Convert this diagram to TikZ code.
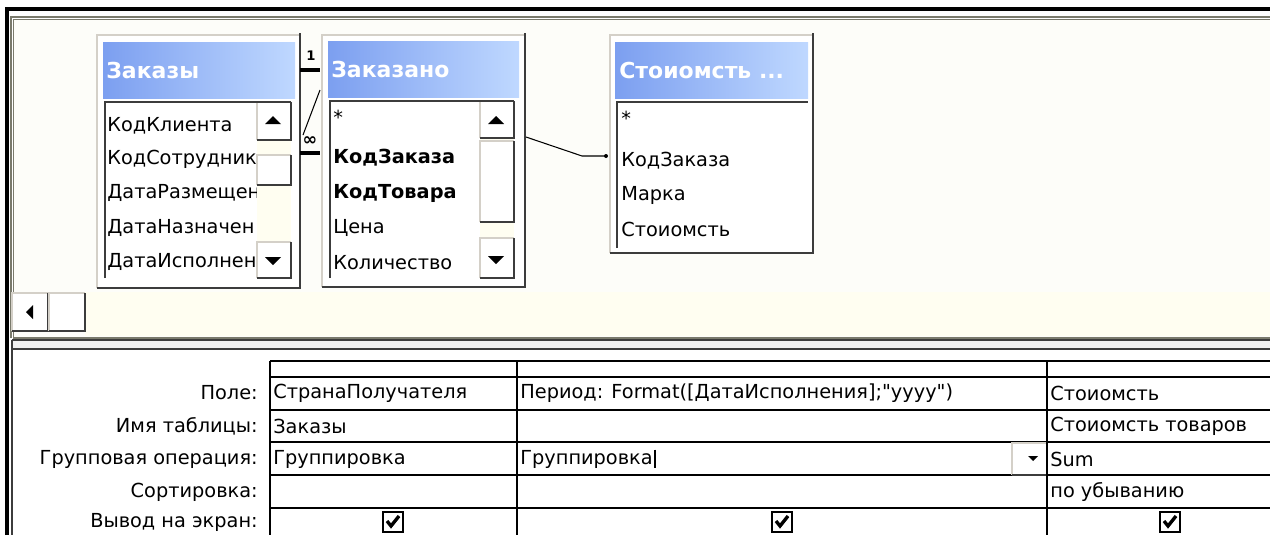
\documentclass[tikz,border=0pt]{standalone}
\usepackage{fontspec}
\setmainfont{DejaVu Sans}[Ligatures=TeXOff]
\usetikzlibrary{positioning,calc}

\definecolor{winbg}{HTML}{FDFDF9}
\definecolor{cream}{HTML}{FFFEF1}
\definecolor{hdrdark}{HTML}{7C9FF0}
\definecolor{hdrlight}{HTML}{BFD8FF}
\definecolor{edgelight}{HTML}{D4D0C8}
\definecolor{edgedark}{HTML}{3C3C3C}
\definecolor{panegray}{HTML}{7A7A6C}

\begin{document}
\begin{tikzpicture}[x=0.02cm,y=-0.02cm,
    fld/.style={anchor=west,inner sep=0pt,font=\fontsize{11}{13}\selectfont},
    bfld/.style={fld,font=\fontsize{11}{13}\selectfont\bfseries},
    hdr/.style={anchor=west,inner sep=0pt,text=white,font=\fontsize{12.5}{15}\selectfont\bfseries},
    lbl/.style={anchor=east,inner sep=0pt,font=\fontsize{11}{13}\selectfont},
    lite/.style={draw=edgelight,line width=0.7pt},
    dark/.style={draw=edgedark,line width=1.1pt},
    rel/.style={line width=1.8pt},
    chk/.style={draw,line width=1.2pt,fill=white,minimum size=11pt,inner sep=0pt}]
    % фон и рамки окна
    \fill[white] (0,0) rectangle (1270,535);
    \useasboundingbox (0,0) rectangle (1270,535);
    \fill[winbg] (13,20) rectangle (1270,338);
    \fill[cream] (85,292) rectangle (1270,336);
    \draw[panegray,line width=0.7pt] (11,338)--(11,17)--(1270,17);
    \draw[panegray,line width=0.7pt] (13.5,338)--(13.5,19.5)--(1270,19.5);
    \draw[panegray,line width=0.6pt] (13,338)--(1270,338);
    \draw[black,line width=1.8pt] (7,535)--(7,9)--(1270,9);

    % нижняя панель
    \fill[black!6] (12,340) rectangle (1270,349);
    \draw[edgedark,line width=0.8pt] (12,340)--(1270,340);
    \draw[edgedark,line width=0.8pt] (12,349)--(1270,349);
    \draw[edgedark,line width=0.8pt] (12,340)--(12,535);

    % горизонтальная прокрутка
    \foreach \xa/\xb in {12/48,49/85} {
      \fill[white] (\xa,293) rectangle (\xb,331);
      \draw[lite] (\xa,331)--(\xa,293)--(\xb,293);
      \draw[dark] (\xa,331)--(\xb,331)--(\xb,293);
    }
    \fill (26,312)--(33,305)--(33,319)--cycle;

    % таблица Заказы
    \fill[white] (97,35) rectangle (300,288);
    \shade[left color=hdrdark,right color=hdrlight] (103,42) rectangle (295,98);
    \node[hdr] (tZak) at (106,70) {Заказы};
    \foreach \y/\f [count=\i] in {126/КодКлиента,159/КодСотрудника,193/ДатаРазмещен,228/ДатаНазначен,262/ДатаИсполнен}
      \node[fld] (zak\i) at (107,\y) {\f};
    \fill[cream] (257,102) rectangle (291,278);
    \foreach \ya/\yb in {102/140,155/185,242/278} {
      \fill[white] (257,\ya) rectangle (291,\yb);
      \draw[lite] (257,\yb)--(257,\ya)--(291,\ya);
      \draw[dark] (257,\yb)--(291,\yb)--(291,\ya);
    }
    \fill (273,116)--(265,124)--(281,124)--cycle;
    \fill (265,257)--(281,257)--(273,265)--cycle;
    \draw[lite] (97,288)--(97,35)--(300,35);
    \draw[dark] (97,288)--(300,288)--(300,33);
    \draw[dark] (105,278)--(105,102)--(291,102);

    % таблица Заказано
    \fill[white] (322,35) rectangle (525,287);
    \shade[left color=hdrdark,right color=hdrlight] (328,41) rectangle (519,97);
    \node[hdr] (tOrd) at (331,69) {Заказано};
    \node[fld] (ord1) at (333,117) {*};
    \node[bfld] (ord2) at (333,158) {КодЗаказа};
    \node[bfld] (ord3) at (333,193) {КодТовара};
    \node[fld] (ord4) at (333,228) {Цена};
    \node[fld] (ord5) at (333,263) {Количество};
    \fill[cream] (480,101) rectangle (514,278);
    \foreach \ya/\yb in {101/138,141/222,238/278} {
      \fill[white] (480,\ya) rectangle (514,\yb);
      \draw[lite] (480,\yb)--(480,\ya)--(514,\ya);
      \draw[dark] (480,\yb)--(514,\yb)--(514,\ya);
    }
    \fill (496,116)--(488,124)--(504,124)--cycle;
    \fill (488,256)--(504,256)--(496,264)--cycle;
    \draw[lite] (322,287)--(322,35)--(525,35);
    \draw[dark] (322,287)--(525,287)--(525,33);
    \draw[dark] (330,278)--(330,101)--(514,101);

    % таблица Стоиомсть
    \fill[white] (610,35) rectangle (813,253);
    \shade[left color=hdrdark,right color=hdrlight] (615,42) rectangle (808,98);
    \node[hdr] (tCost) at (619,70) {Стоиомсть ...};
    \node[fld] (cst1) at (621,118) {*};
    \node[fld] (cst2) at (621,161) {КодЗаказа};
    \node[fld] (cst3) at (621,195) {Марка};
    \node[fld] (cst4) at (621,229) {Стоиомсть};
    \draw[lite] (610,253)--(610,35)--(813,35);
    \draw[dark] (610,253)--(813,253)--(813,33);
    \draw[dark] (617,248)--(617,102)--(808,102);

    % связи
    \node[inner sep=0pt,font=\fontsize{7.5}{8}\selectfont\bfseries] (one) at (311,56) {1};
    \node[inner sep=0pt,font=\fontsize{10}{10}\selectfont\bfseries] (many) at (310,141) {∞};
    \coordinate (r1a) at (300,70);
    \coordinate (r1b) at (320,70);
    \coordinate (r2a) at (320,90);
    \coordinate (r2b) at (303,135);
    \coordinate (r3a) at (300,153);
    \coordinate (r3b) at (320,153);
    \draw[rel] (r1a)--(r1b);
    \draw[line width=0.6pt] (r2a)--(r2b);
    \draw[rel] (r3a)--(r3b);
    \coordinate (c2a) at (526,137);
    \coordinate (c2b) at (582,156);
    \coordinate (c2c) at (606,156);
    \draw[line width=0.6pt] (c2a)--(c2b)--(c2c);
    \fill (c2c) circle (2);

    % бланк запроса
    \foreach \y in {361,377,410,442,475,508}
      \draw[line width=0.6pt] (270,\y)--(1270,\y);
    \foreach \x in {270,517,1047}
      \draw[line width=0.6pt] (\x,361)--(\x,535);
    \foreach \y/\t [count=\i] in {393/Поле:,426/Имя таблицы:,459/Групповая операция:,492/Сортировка:,522/Вывод на экран:}
      \node[lbl] (lb\i) at (258,\y) {\t};
    \node[fld] (c11) at (273,393) {СтранаПолучателя};
    \node[fld] (c12) at (273,426) {Заказы};
    \node[fld] (c13) at (273,459) {Группировка};
    \node[fld] (c21) at (520,393) {Период: Format([ДатаИсполнения];"yyyy")};
    \node[fld] (c23) at (520,459) {Группировка};
    \draw[line width=1.1pt] ([xshift=1pt]c23.north east)--([xshift=1pt]c23.south east);
    \node[fld] (c31) at (1050,393) {Стоиомсть};
    \node[fld] (c32) at (1050,426) {Стоиомсть товаров};
    \node[fld] (c33) at (1050,459) {Sum};
    \node[fld] (c34) at (1050,492) {по убыванию};
    \draw[lite] (1012,475)--(1012,443)--(1046,443);
    \draw[dark] (1012,475)--(1046,475);
    \fill (1028,456)--(1038,456)--(1033,461)--cycle;
    \foreach \x [count=\i] in {393,782,1170} {
      \node[chk] (box\i) at (\x,522) {};
      \draw[line width=1.9pt] (\x,522) ++(-6,-1) -- ++(4,5) -- ++(8,-10);
    }
\end{tikzpicture}
\end{document}
